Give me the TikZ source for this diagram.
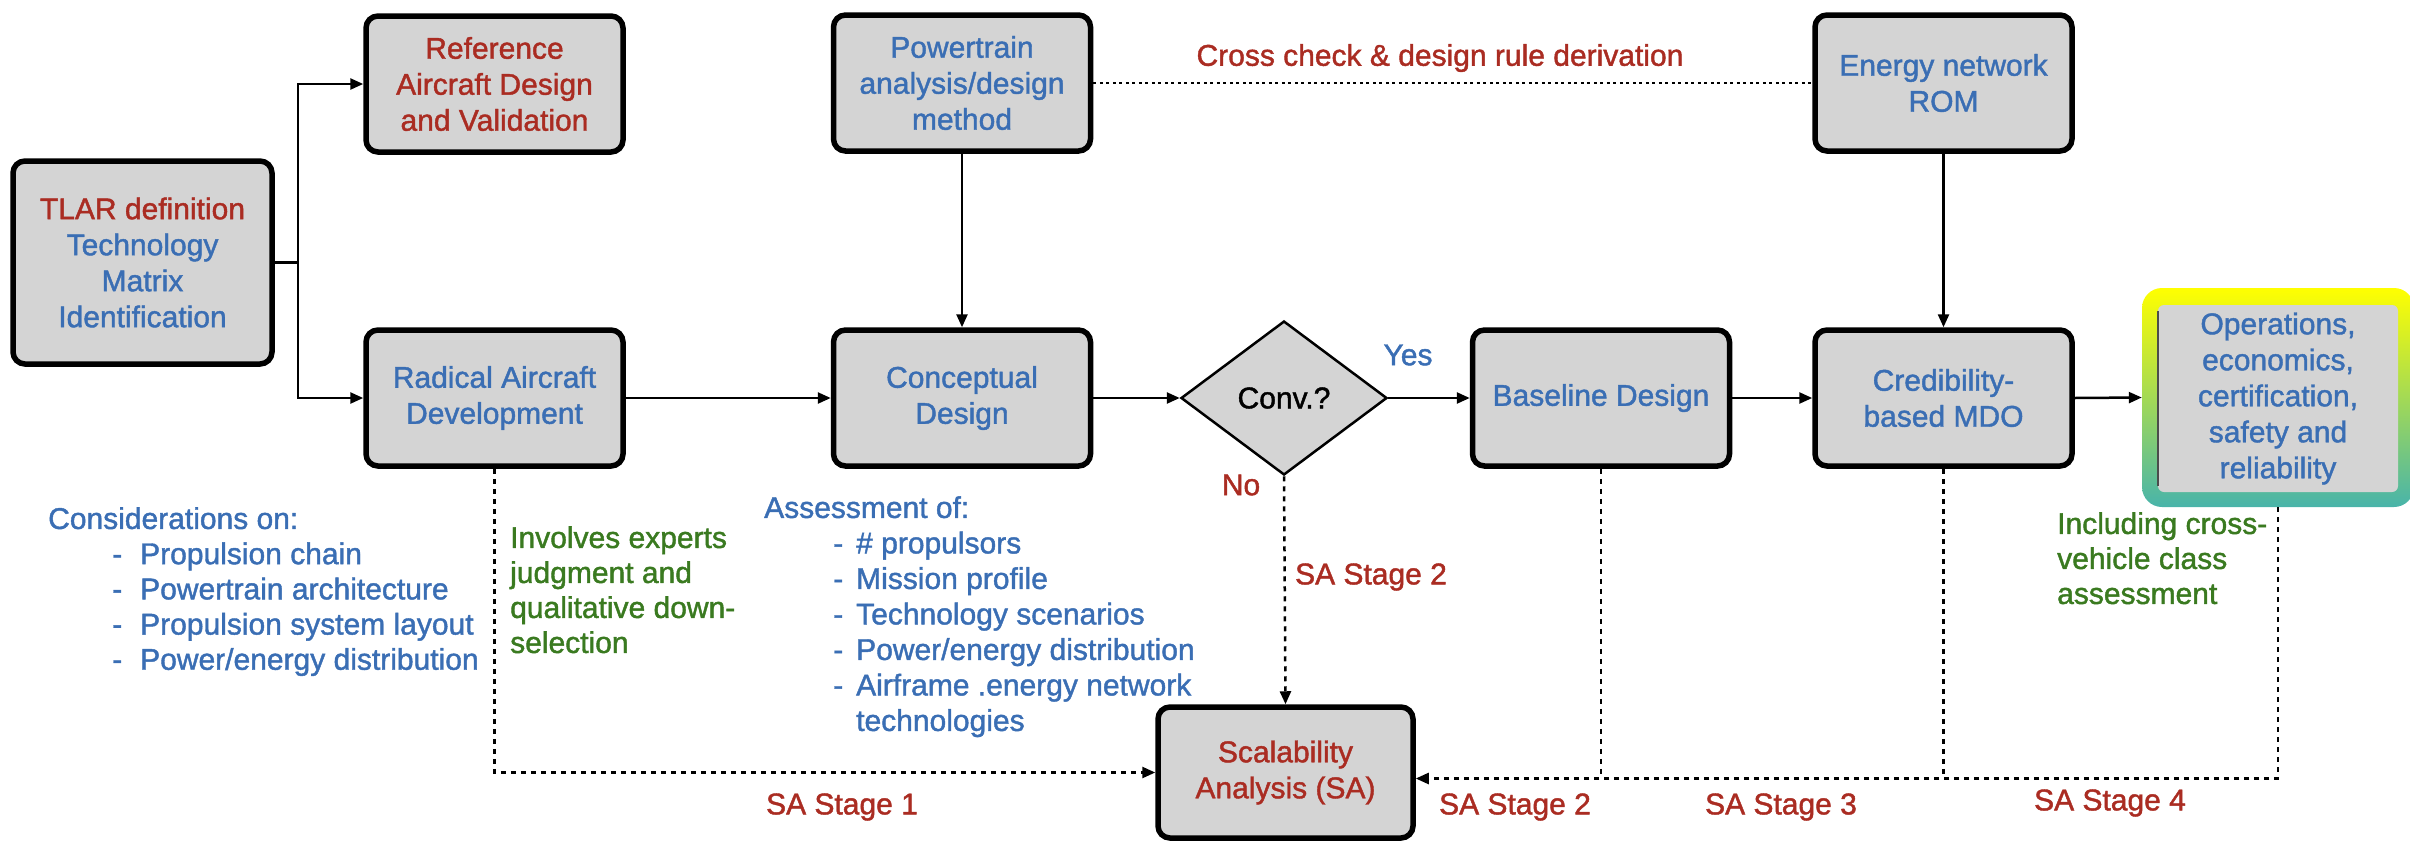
\documentclass[tikz,border=0pt]{standalone}
\usepackage{fontspec}
\setmainfont{Liberation Sans}[UprightFeatures={FakeBold=1.4}]
\usetikzlibrary{arrows.meta,shapes.geometric,calc}
\definecolor{boxfill}{RGB}{212,212,212}
\definecolor{tblue}{RGB}{58,110,180}
\definecolor{tred}{RGB}{170,44,34}
\definecolor{tgreen}{RGB}{58,122,32}
\definecolor{frametop}{RGB}{255,255,0}
\definecolor{framemid}{RGB}{188,226,96}
\definecolor{framebot}{RGB}{72,180,170}

\begin{document}
\begin{tikzpicture}[x=1pt,y=-1pt,
  font=\fontsize{30}{36}\selectfont,
  stagebox/.style={draw=black, line width=5.5pt, rounded corners=12pt, fill=boxfill,
    minimum width=257pt, minimum height=136pt, align=center, inner sep=4pt, text=tblue},
  flow/.style={line width=2.5pt, -{Triangle[length=13pt,width=11pt]}},
  link/.style={line width=2.5pt},
  dashlink/.style={line width=2.5pt, dash pattern=on 5pt off 5pt},
  dashflow/.style={dashlink, -{Triangle[length=13pt,width=11pt]}},
  dotlink/.style={line width=2.5pt, dash pattern=on 3pt off 3.5pt},
  note/.style={anchor=north west, inner sep=0pt, align=left},
  lbl/.style={inner sep=0pt}
]
\useasboundingbox (0,0) rectangle (2410,841);

% main process boxes
\node[stagebox, minimum width=259pt, minimum height=203pt] (tlar) at (142.5,262.5)
  {\textcolor{tred}{TLAR definition}\\Technology\\Matrix\\Identification};
\node[stagebox, text=tred] (ref) at (494.5,84) {Reference\\Aircraft Design\\and Validation};
\node[stagebox] (rad) at (494.5,398) {Radical Aircraft\\Development};
\node[stagebox] (pt) at (962,83) {Powertrain\\analysis/design\\method};
\node[stagebox] (concept) at (962,398) {Conceptual\\Design};
\node[diamond, draw=black, line width=2.5pt, fill=boxfill, aspect=1.34,
  minimum width=206pt, minimum height=154pt, inner sep=0pt] (conv) at (1284,398) {Conv.?};
\node[stagebox] (base) at (1601,398) {Baseline Design};
\node[stagebox] (energy) at (1943.5,83) {Energy network\\ROM};
\node[stagebox] (cred) at (1943.5,398) {Credibility-\\based MDO};
\node[stagebox, text=tred, minimum width=255pt, minimum height=131pt] (sa) at (1285.5,772.5)
  {Scalability\\Analysis (SA)};

% highlighted final box: shaded frame with a grey panel inside
\node[rounded corners=20pt, top color=frametop, middle color=framemid, bottom color=framebot,
  minimum width=272pt, minimum height=219pt, inner sep=0pt] (opsframe) at (2278,397.5) {};
\node[fill=boxfill, rounded corners=6pt, minimum width=240pt, minimum height=187pt,
  align=center, text=tblue, inner sep=0pt] (ops) at (2278,398.5)
  {Operations,\\economics,\\certification,\\safety and\\reliability};
\draw[line width=1.5pt, black!70] ($(ops.north west)+(0,6)$) -- ($(ops.south west)+(0,-6)$);

% solid flow
\coordinate (split) at (298,262.5);
\draw[link] (tlar.east) -- (split);
\draw[flow] (split) |- (ref.west);
\draw[flow] (split) |- (rad.west);
\draw[flow] (rad.east) -- (concept.west);
\draw[flow] (pt.south) -- (concept.north);
\draw[flow] (concept.east) -- (conv.west);
\draw[flow] (conv.east) -- (base.west);
\draw[flow] (base.east) -- (cred.west);
\draw[flow] (energy.south) -- (cred.north);
\draw[flow] (cred.east) -- (opsframe.west);

% cross check link
\draw[dotlink] (pt.east) -- (energy.west);

% scalability analysis feedback
\coordinate (rail) at ($(sa.east)+(0,6)$);
\draw[dashflow] (conv.south) -- (sa.north);
\draw[dashflow] (rad.south) |- (sa.west);
\draw[dashflow] (opsframe.south) |- (rail);
\draw[dashlink] (base.south) -- (base.south |- rail);
\draw[dashlink] (cred.south) -- (cred.south |- rail);

% labels
\node[lbl, text=tred] (crosslbl) at (1440,58) {Cross check \& design rule derivation};
\node[lbl, text=tblue] (yeslbl) at (1408,355) {Yes};
\node[lbl, text=tred] (nolbl) at (1241,485) {No};
\node[lbl, text=tred] (sa2top) at (1371,577) {SA Stage 2};
\node[lbl, text=tred] (sa1) at (842,807) {SA Stage 1};
\node[lbl, text=tred] (sa2) at (1515,807) {SA Stage 2};
\node[lbl, text=tred] (sa3) at (1781,807) {SA Stage 3};
\node[lbl, text=tred] (sa4) at (2110,803) {SA Stage 4};

% notes
\node[note, text=tblue, font=\fontsize{30}{35.2}\selectfont] (considerations) at (48,507)
  {Considerations on:\\
   \hspace*{64pt}\makebox[28pt][l]{-}Propulsion chain\\
   \hspace*{64pt}\makebox[28pt][l]{-}Powertrain architecture\\
   \hspace*{64pt}\makebox[28pt][l]{-}Propulsion system layout\\
   \hspace*{64pt}\makebox[28pt][l]{-}Power/energy distribution};
\node[note, text=tgreen, font=\fontsize{30}{35}\selectfont] (experts) at (510,526)
  {Involves experts\\judgment and\\qualitative down-\\selection};
\node[note, text=tblue, font=\fontsize{30}{35.5}\selectfont] (assessment) at (764,496)
  {Assessment of:\\
   \hspace*{69pt}\makebox[23pt][l]{-}\# propulsors\\
   \hspace*{69pt}\makebox[23pt][l]{-}Mission profile\\
   \hspace*{69pt}\makebox[23pt][l]{-}Technology scenarios\\
   \hspace*{69pt}\makebox[23pt][l]{-}Power/energy distribution\\
   \hspace*{69pt}\makebox[23pt][l]{-}Airframe .energy network\\
   \hspace*{92pt}technologies};
\node[note, text=tgreen, font=\fontsize{30}{35}\selectfont] (crossveh) at (2057,512)
  {Including cross-\\vehicle class\\assessment};
\end{tikzpicture}
\end{document}
